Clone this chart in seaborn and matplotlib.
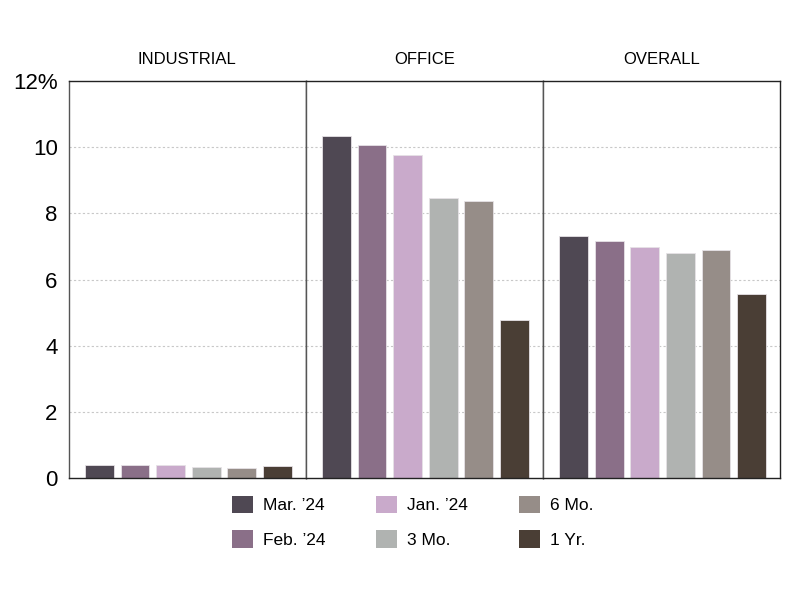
import pandas as pd
import seaborn as sns
import matplotlib.pyplot as plt
from matplotlib.patches import Patch

segments = ['INDUSTRIAL', 'OFFICE', 'OVERALL']
periods = ['Mar. \u201924', 'Feb. \u201924', 'Jan. \u201924', '3 Mo.', '6 Mo.', '1 Yr.']
industrial = [0.40, 0.40, 0.40, 0.35, 0.31, 0.37]
office = [10.33, 10.06, 9.76, 8.46, 8.37, 4.79]
overall = [7.33, 7.16, 6.97, 6.80, 6.89, 5.57]
colors = ['#4f4853', '#8a6f88', '#c9aacb', '#b0b3b1', '#968d88', '#4a3e35']
yticks = [0, 2, 4, 6, 8, 10, 12]
ytick_labels = ['0', '2', '4', '6', '8', '10', '12%']

df = pd.DataFrame({
    'segment': [s for s in segments for _ in periods],
    'period': periods * 3,
    'value': industrial + office + overall,
})

sns.set_style('white')
plt.rcParams['font.family'] = ['Liberation Sans', 'DejaVu Sans']
plt.rcParams['text.color'] = 'black'
plt.rcParams['ytick.color'] = 'black'

fig, axes = plt.subplots(1, 3, figsize=(8, 6), dpi=100, sharey=True)
fig.subplots_adjust(left=0.086, right=0.975, top=0.865, bottom=0.203, wspace=0)

for ax, seg in zip(axes, segments):
    sub = df[df['segment'] == seg]
    sns.barplot(data=sub, x='period', y='value', hue='period', order=periods,
                hue_order=periods, palette=colors, width=0.81, legend=False,
                ax=ax, saturation=1, edgecolor='#e6e2e6', linewidth=0.6)
    ax.set_xlim(-0.86, 5.8)
    ax.set_ylim(0, 12)
    ax.set_title(seg, fontsize=12, pad=12, color='black')
    ax.set_xlabel('')
    ax.set_ylabel('')
    ax.set_xticks([])
    for y in yticks[1:-1]:
        ax.axhline(y, color='#c8c8c8', lw=0.8, ls=(0, (2, 2)), zorder=0)
    for side in ['top', 'right', 'bottom']:
        ax.spines[side].set_color('#222222')
        ax.spines[side].set_linewidth(1)
    ax.spines['left'].set_color('#555555')
    ax.spines['left'].set_linewidth(1)

axes[0].set_yticks(yticks)
axes[0].set_yticklabels(ytick_labels, fontsize=16)
axes[0].tick_params(axis='y', length=0, pad=8)

handles = [Patch(facecolor=c, edgecolor='none') for c in colors]
fig.legend(handles, periods, ncol=3, loc='upper center', bbox_to_anchor=(0.516, 0.2),
           frameon=False, fontsize=12.5, handlelength=1.2, handleheight=1.2,
           columnspacing=2.9, labelspacing=0.95, handletextpad=0.6)

plt.savefig('out.png', dpi=100)
